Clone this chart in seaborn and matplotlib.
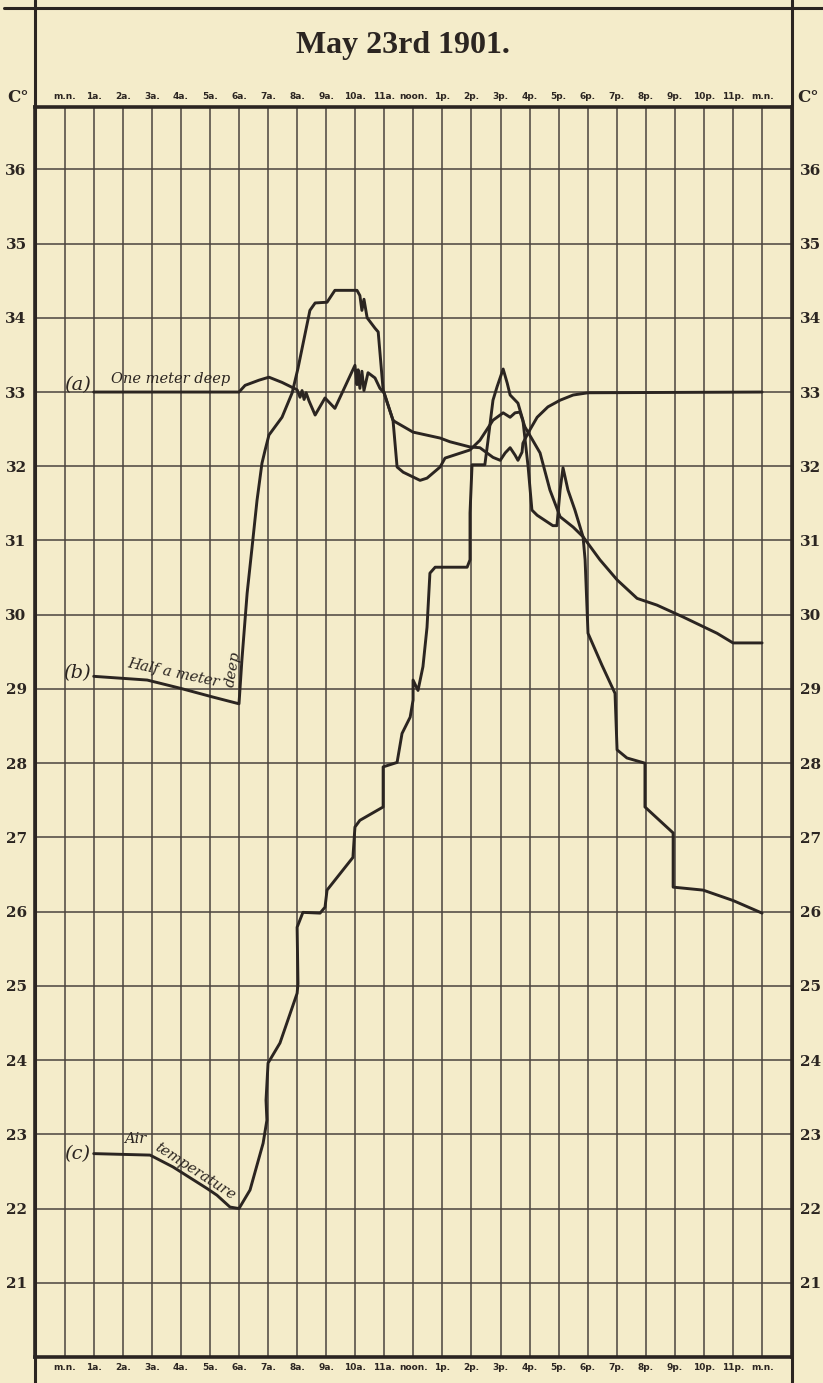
import pandas as pd
import seaborn as sns
import matplotlib.pyplot as plt
from matplotlib.lines import Line2D

# Soil and air temperatures, May 23rd 1901 (hours after midnight, degrees C)
meter_hours = [1.0, 6.0, 6.21, 6.69, 7.03, 7.48, 8.0, 8.1, 8.17, 8.24, 8.31, 8.41,
               8.62, 8.96, 9.3, 9.99, 10.06, 10.1, 10.16, 10.23, 10.3, 10.44, 10.68,
               10.85, 10.99, 11.3, 11.37, 11.99, 12.92, 13.26, 13.95, 14.29, 14.74,
               14.99, 15.16, 15.33, 15.5, 15.6, 15.74, 15.77, 15.95, 16.26, 16.63,
               17.05, 17.5, 18.01, 24.0]
meter_temp = [33.0, 33.0, 33.09, 33.16, 33.2, 33.13, 33.03, 32.93, 33.02, 32.9, 32.99, 32.88,
              32.69, 32.92, 32.78, 33.36, 33.1, 33.3, 33.05, 33.28, 33.02, 33.26, 33.19,
              33.05, 32.99, 32.62, 32.6, 32.46, 32.38, 32.33, 32.26, 32.25, 32.12,
              32.08, 32.18, 32.25, 32.15, 32.08, 32.19, 32.31, 32.45, 32.66, 32.8,
              32.89, 32.96, 32.99, 33.0]

half_hours = [1.0, 2.84, 3.97, 5.11, 6.0, 6.1, 6.28, 6.45, 6.62, 6.79, 6.9, 7.03, 7.48,
              7.83, 8.03, 8.44, 8.62, 9.03, 9.3, 10.06, 10.16, 10.23, 10.3, 10.41, 10.68,
              10.79, 10.96, 11.3, 11.44, 11.65, 12.23, 12.47, 12.92, 13.09, 13.95, 14.29,
              14.74, 15.09, 15.33, 15.5, 15.67, 15.84, 16.36, 16.7, 17.05, 17.5, 17.84,
              18.42, 19.01, 19.7, 20.38, 21.28, 22.45, 23.0, 24.0]
half_temp = [29.17, 29.12, 29.01, 28.89, 28.8, 29.39, 30.29, 30.91, 31.54, 32.04, 32.22, 32.42, 32.66,
             32.99, 33.32, 34.1, 34.2, 34.21, 34.37, 34.37, 34.3, 34.1, 34.25, 34.0, 33.86,
             33.81, 33.03, 32.62, 31.99, 31.92, 31.81, 31.84, 31.99, 32.11, 32.22, 32.35,
             32.62, 32.72, 32.66, 32.72, 32.73, 32.53, 32.18, 31.68, 31.32, 31.18, 31.05,
             30.74, 30.47, 30.22, 30.13, 29.97, 29.75, 29.62, 29.62]

air_hours = [1.0, 2.94, 3.73, 4.9, 5.24, 5.69, 6.0, 6.38, 6.83, 6.96, 6.93, 7.0, 7.41, 8.0,
             8.03, 8.0, 8.2, 8.79, 8.96, 9.03, 9.92, 9.99, 10.16, 10.96, 10.96, 11.44, 11.61,
             11.89, 11.99, 11.99, 12.16, 12.33, 12.47, 12.57, 12.75, 13.85, 13.95, 13.95,
             14.02, 14.46, 14.57, 14.74, 14.88, 15.09, 15.23, 15.33, 15.6, 15.77, 15.95,
             16.08, 16.26, 16.8, 16.94, 17.05, 17.15, 17.32, 17.56, 17.84, 17.91, 18.01,
             18.49, 18.94, 19.01, 19.35, 19.97, 19.97, 20.94, 20.94, 21.97, 23.0, 24.0]
air_temp = [22.74, 22.72, 22.56, 22.27, 22.18, 22.02, 22.0, 22.25, 22.88, 23.19, 23.46, 23.96, 24.23, 24.9,
            25.03, 25.79, 25.99, 25.98, 26.06, 26.29, 26.73, 27.14, 27.23, 27.41, 27.95, 28.01, 28.4,
            28.62, 28.85, 29.12, 28.98, 29.3, 29.83, 30.56, 30.64, 30.64, 30.74, 31.37,
            32.02, 32.02, 32.35, 32.89, 33.07, 33.31, 33.12, 32.96, 32.85, 32.62, 31.99,
            31.41, 31.34, 31.2, 31.2, 31.68, 31.98, 31.68, 31.41, 31.05, 30.74, 29.75,
            29.32, 28.94, 28.18, 28.07, 28.0, 27.41, 27.06, 26.33, 26.29, 26.15, 25.98]

hour_labels = ["m.n.", "1a.", "2a.", "3a.", "4a.", "5a.", "6a.", "7a.", "8a.", "9a.", "10a.",
               "11a.", "noon.", "1p.", "2p.", "3p.", "4p.", "5p.", "6p.", "7p.", "8p.", "9p.",
               "10p.", "11p.", "m.n."]
degree_ticks = list(range(21, 37))

paper = "#f4ecca"
ink = "#2b2521"
rule = "#4a433e"

df = pd.concat([
    pd.DataFrame({"hour": meter_hours, "temp": meter_temp, "series": "a"}),
    pd.DataFrame({"hour": half_hours, "temp": half_temp, "series": "b"}),
    pd.DataFrame({"hour": air_hours, "temp": air_temp, "series": "c"}),
])

sns.set_style("white", {"axes.facecolor": paper, "figure.facecolor": paper})
plt.rcParams["font.family"] = ["DejaVu Serif"]

fig = plt.figure(figsize=(8.23, 13.83), dpi=100)
ax = fig.add_axes([35 / 823, 26 / 1383, 757 / 823, 1250 / 1383])

sns.lineplot(data=df, x="hour", y="temp", units="series", estimator=None, sort=False,
             color=ink, lw=2.1, ax=ax)

ax.set_xlim(-1.02, 25.03)
ax.set_ylim(20.0, 36.84)
ax.set_xticks(range(25))
ax.set_xticklabels(hour_labels, fontsize=6.5, fontweight="bold", family="DejaVu Sans")
ax.set_yticks(degree_ticks)
ax.set_yticklabels([str(d) for d in degree_ticks], fontsize=11, fontweight="bold")
ax.grid(True, color=rule, lw=1.1)
ax.set_axisbelow(True)
ax.tick_params(axis="x", top=True, labeltop=True, bottom=True, labelbottom=True,
               length=0, pad=4, colors=ink)
ax.tick_params(axis="y", left=True, right=True, labelleft=True, labelright=True,
               length=0, pad=6, colors=ink)
ax.set_xlabel("")
ax.set_ylabel("")
for side in ax.spines.values():
    side.set_color(ink)
    side.set_linewidth(2.6)

# curve names written along the traces
ital = dict(fontstyle="italic", color=ink, family="DejaVu Serif")
ax.text(0.43, 33.1, "(a)", fontsize=14, ha="center", va="center", **ital)
ax.text(3.63, 33.18, "One meter deep", fontsize=10.5, ha="center", va="center", **ital)
ax.text(0.42, 29.22, "(b)", fontsize=14, ha="center", va="center", **ital)
ax.text(3.73, 29.22, "Half a meter", fontsize=10.5, ha="center", va="center", rotation=-12, **ital)
ax.text(5.8, 29.27, "deep", fontsize=10.5, ha="center", va="center", rotation=80, **ital)
ax.text(0.42, 22.73, "(c)", fontsize=14, ha="center", va="center", **ital)
ax.text(2.42, 22.94, "Air", fontsize=10.5, ha="center", va="center", **ital)
ax.text(4.5, 22.5, "temperature", fontsize=10.5, ha="center", va="center", rotation=-33, **ital)

# plate frame and heading
for fx in (35 / 823, 792 / 823):
    fig.add_artist(Line2D([fx, fx], [0, 1], transform=fig.transFigure, color=ink, lw=2.2))
fig.add_artist(Line2D([0.005, 1], [1 - 8 / 1383, 1 - 8 / 1383], transform=fig.transFigure,
                      color=ink, lw=2.2))
fig.text(403 / 823, 1 - 45 / 1383, "May 23rd 1901.", ha="center", va="center",
         fontsize=23, fontweight="bold", family="Liberation Serif", color=ink)
fig.text(18 / 823, 1 - 97 / 1383, "C°", ha="center", va="center", fontsize=12,
         fontweight="bold", color=ink)
fig.text(808 / 823, 1 - 97 / 1383, "C°", ha="center", va="center", fontsize=12,
         fontweight="bold", color=ink)

fig.savefig("out.png", dpi=100, facecolor=paper)
